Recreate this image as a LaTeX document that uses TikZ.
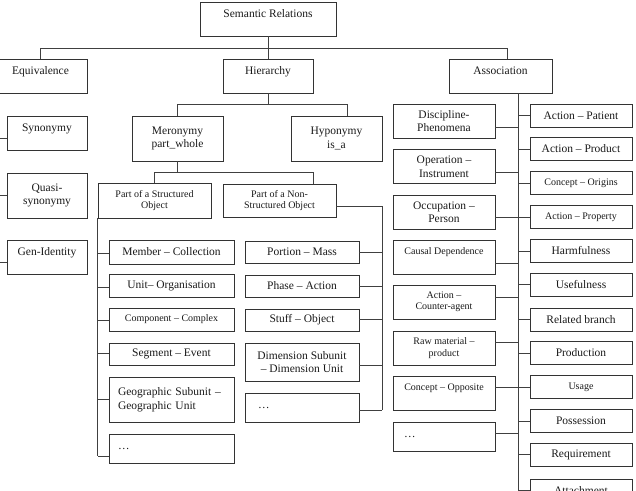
\documentclass[tikz,border=0pt]{standalone}
\usepackage{fontspec}
\setmainfont{Liberation Serif}
\usetikzlibrary{calc}
\tikzset{
  rel/.style={draw=black!80,line width=0.8pt,inner sep=1pt,align=center,font=\fontsize{11.5}{13.5}\selectfont,text=black!90},
  srel/.style={rel,font=\fontsize{10}{11.5}\selectfont},
  flat/.style={rel},
  liftup/.style={rel,text height=8pt,text depth=11pt},
  srelupp/.style={srel,text height=7pt,text depth=13pt},
  link/.style={draw=black!75,line width=0.8pt},
}
\begin{document}
\begin{tikzpicture}[x=1pt,y=-1pt]
\useasboundingbox (0,0) rectangle (636,490);
\clip (0,0) rectangle (636,490);
% top levels
\node[liftup,minimum width=136,minimum height=34] (sr) at (268,19) {Semantic Relations};
\foreach \n/\x/\w/\t in {eq/40.5/93/Equivalence, hier/268/90/Hierarchy, asc/500.5/103/Association}
  \node[liftup,minimum width=\w,minimum height=34] (\n) at (\x,76) {\t};
% equivalence
\foreach \n/\y/\h/\s/\t in {syn/133/34/liftup/Synonymy, qsyn/195.5/45/flat/{Quasi-\\synonymy}, gen/257/34/liftup/Gen-Identity}
  \node[style=\s,minimum width=80,minimum height=\h] (\n) at (47,\y) {\t};
% hierarchy
\node[rel,minimum width=91,minimum height=45] (mer) at (177.5,138.5) {Meronymy\\part\_whole};
\node[rel,minimum width=91,minimum height=45] (hyp) at (336.5,138.5) {Hyponymy\\is\_a};
\node[srel,minimum width=113,minimum height=35] (pso) at (154.5,200.5) {Part of a Structured\\Object};
\node[srel,minimum width=113,minimum height=33] (pnso) at (279.5,200.5) {Part of a Non-\\Structured Object};
\foreach \n/\y/\h/\s/\t in {s1/252/24/rel/{Member – Collection}, s2/285.5/23/rel/{Unit– Organisation}, s3/319.5/23/srel/{Component – Complex}, s4/354/22/rel/{Segment – Event}}
  \node[style=\s,minimum width=125,minimum height=\h] (\n) at (171.5,\y) {\t};
\node[rel,minimum width=125,minimum height=45,text width=107,align=left] (s5) at (171.5,399.5) {Geographic Subunit –\\Geographic Unit};
\node[rel,minimum width=125,minimum height=29,text width=107,align=left] (s6) at (171.5,448.5) {…};
\foreach \n/\y/\h/\t in {n1/252/22/{Portion – Mass}, n2/286/22/{Phase – Action}, n3/320/22/{Stuff – Object}, n4/362/38/{Dimension Subunit\\– Dimension Unit}}
  \node[rel,minimum width=114,minimum height=\h] (\n) at (302,\y) {\t};
\node[rel,minimum width=114,minimum height=29,text width=88,align=left] (n5) at (302,407.5) {…};
% association
\foreach \n/\y/\s/\t in {r1/115.5/rel/{Action – Patient}, r2/149/rel/{Action – Product}, r3/183/srel/{Concept – Origins}, r4/217/srel/{Action – Property}, r5/251/rel/Harmfulness, r6/284.5/rel/Usefulness, r7/319.5/rel/{Related branch}, r8/353/rel/Production, r9/387/srel/Usage, r10/421/rel/Possession, r11/454.5/rel/Requirement, r12/490.5/rel/Attachment}
  \node[style=\s,minimum width=102,minimum height=23] (\n) at (581,\y) {\t};
\foreach \n/\y/\s/\t in {l1/121/rel/{Discipline-\\Phenomena}, l2/166.5/rel/{Operation –\\Instrument}, l3/212/rel/{Occupation –\\Person}, l4/257/srelupp/{Causal Dependence}, l5/302/srel/{Action –\\Counter-agent}, l6/348/srel/{Raw material –\\product}, l7/393/srelupp/{Concept – Opposite}}
  \node[style=\s,minimum width=102,minimum height=34] (\n) at (444,\y) {\t};
\node[rel,minimum width=102,minimum height=29,text width=80,align=left] (l8) at (444,436.5) {…};
% connectors
\coordinate (tj) at (0,48);
\coordinate (aj) at (507,48);
\draw[link] (sr.south) -- (sr.south |- tj);
\draw[link] (eq.north) |- (aj) -- (aj |- asc.north);
\draw[link] (hier.north) -- (hier.north |- tj);
\coordinate (hj) at (347,104);
\draw[link] (hier.south) -- (hier.south |- hj);
\draw[link] (mer.north) |- (hj) -- (hj |- hyp.north);
\coordinate (mj) at (313,172);
\draw[link] (mer.south) -- (mer.south |- mj);
\draw[link] (pso.north) |- (mj) -- (mj |- pnso.north);
\coordinate (etrunk) at (-3,0);
\foreach \n/\o in {syn/5,qsyn/0,gen/5} {
  \path ($(\n.west)+(0,\o)$) coordinate (\n e);
  \draw[link] (\n e) -- (\n e -| etrunk);}
\draw[link] (eq.south -| etrunk) -- (etrunk |- gene);
\foreach \n/\o in {s1/1,s2/1.5,s3/0.5,s4/-1,s5/-0.5,s6/7.5} {
  \path ($(\n.west)+(0,\o)$) coordinate (\n e);
  \draw[link] (\n e) -- (\n e -| pso.west);}
\draw[link] (pso.south west) -- (pso.south west |- s6e);
\coordinate (ntrunk) at (382,0);
\foreach \n/\o in {n1/0,n2/0,n3/-1,n4/3,n5/2.5} {
  \path ($(\n.east)+(0,\o)$) coordinate (\n e);
  \draw[link] (\n e) -- (\n e -| ntrunk);}
\path ($(pnso.east)+(0,6)$) coordinate (pnsoe);
\draw[link] (pnsoe) -| (ntrunk |- n5e);
\coordinate (atrunk) at (518,0);
\draw[link] (asc.south -| atrunk) -- (atrunk |- r12.west);
\foreach \i in {1,...,12}
  \draw[link] (r\i.west) -- (r\i.west -| atrunk);
\foreach \n/\o in {l1/6,l2/5.5,l3/5,l4/6,l5/-5,l6/-6,l7/-6,l8/-3.5} {
  \path ($(\n.east)+(0,\o)$) coordinate (\n e);
  \draw[link] (\n e) -- (\n e -| atrunk);}
\end{tikzpicture}
\end{document}
